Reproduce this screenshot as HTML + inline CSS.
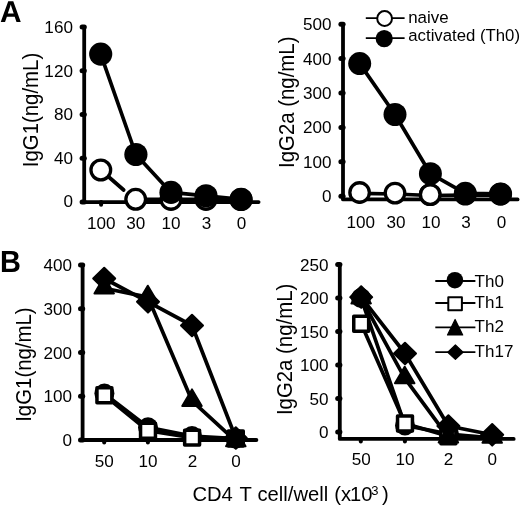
<!DOCTYPE html>
<html><head><meta charset="utf-8"><style>
html,body{margin:0;padding:0;background:#fff;}
body{width:520px;height:506px;overflow:hidden;}
svg{display:block;filter:grayscale(1);}
text{font-family:"Liberation Sans",sans-serif;fill:#000;}
</style></head><body>
<svg width="520" height="506" viewBox="0 0 520 506" stroke="#000">
<rect x="0" y="0" width="520" height="506" fill="#fff" stroke="none"/>

<path d="M16.5 22 14.68 16.7H6.86L5.04 22H0.74L8.23 1.24H13.29L20.75 22ZM10.76 4.44 10.67 4.76Q10.53 5.29 10.32 5.97Q10.12 6.65 7.82 13.42H13.72L11.69 7.46L11.07 5.45Z" fill="#000" stroke="none"/>
<path d="M19.6 266.08Q19.6 268.96 17.56 270.53Q15.52 272.1 11.89 272.1H1.9V251H11.04Q14.7 251 16.57 252.34Q18.45 253.68 18.45 256.3Q18.45 258.1 17.51 259.33Q16.57 260.57 14.64 261Q17.06 261.3 18.33 262.61Q19.6 263.92 19.6 266.08ZM14.24 256.9Q14.24 255.48 13.39 254.88Q12.53 254.28 10.84 254.28H6.08V259.51H10.87Q12.64 259.51 13.44 258.85Q14.24 258.2 14.24 256.9ZM15.41 265.74Q15.41 262.77 11.38 262.77H6.08V268.82H11.54Q13.55 268.82 14.48 268.05Q15.41 267.28 15.41 265.74Z" fill="#000" stroke="none"/>
<g stroke="none">
</g>
<line x1="84.2" y1="27.02" x2="84.2" y2="202.1" stroke-width="3.8" stroke-linecap="butt"/>
<line x1="84.2" y1="202.1" x2="258.6" y2="202.1" stroke-width="3.8" stroke-linecap="round"/>
<line x1="82.1" y1="202.1" x2="84.3" y2="202.1" stroke-width="5" stroke-linecap="round"/>
<line x1="82.1" y1="158.33" x2="84.3" y2="158.33" stroke-width="5" stroke-linecap="round"/>
<line x1="82.1" y1="114.56" x2="84.3" y2="114.56" stroke-width="5" stroke-linecap="round"/>
<line x1="82.1" y1="70.79" x2="84.3" y2="70.79" stroke-width="5" stroke-linecap="round"/>
<line x1="82.1" y1="27.02" x2="84.3" y2="27.02" stroke-width="5" stroke-linecap="round"/>
<line x1="101.1" y1="202.1" x2="101.1" y2="204.7" stroke-width="4" stroke-linecap="round"/>
<line x1="136" y1="202.1" x2="136" y2="204.7" stroke-width="4" stroke-linecap="round"/>
<line x1="171" y1="202.1" x2="171" y2="204.7" stroke-width="4" stroke-linecap="round"/>
<line x1="206" y1="202.1" x2="206" y2="204.7" stroke-width="4" stroke-linecap="round"/>
<line x1="241" y1="202.1" x2="241" y2="204.7" stroke-width="4" stroke-linecap="round"/>
<text stroke="none" transform="translate(72.9,206.9) scale(1.07,1)" font-size="16" text-anchor="end" >0</text>
<text stroke="none" transform="translate(72.9,163.93) scale(1.07,1)" font-size="16" text-anchor="end" >40</text>
<text stroke="none" transform="translate(72.9,120.26) scale(1.07,1)" font-size="16" text-anchor="end" >80</text>
<text stroke="none" transform="translate(72.9,76.79) scale(1.07,1)" font-size="16" text-anchor="end" >120</text>
<text stroke="none" transform="translate(72.9,33.42) scale(1.07,1)" font-size="16" text-anchor="end" >160</text>
<text stroke="none" transform="translate(101.35,229) scale(1.07,1)" font-size="16" text-anchor="middle" >100</text>
<text stroke="none" transform="translate(135.75,229) scale(1.07,1)" font-size="16" text-anchor="middle" >30</text>
<text stroke="none" transform="translate(171,229) scale(1.07,1)" font-size="16" text-anchor="middle" >10</text>
<text stroke="none" transform="translate(206.45,229) scale(1.07,1)" font-size="16" text-anchor="middle" >3</text>
<text stroke="none" transform="translate(241.45,229) scale(1.07,1)" font-size="16" text-anchor="middle" >0</text>
<text stroke="none" transform="translate(37.9,110) scale(1.04,1) rotate(-90)" x="0" y="0" font-size="20.4" text-anchor="middle">IgG1(ng/mL)</text>
<line x1="100.8" y1="170" x2="123.7" y2="190" stroke-width="3.7" stroke-linecap="round"/>
<polyline points="135.7,199.3 171,199.4 206,199.4 241,199.5" fill="none" stroke-width="3.7" stroke-linejoin="round"/>
<circle cx="100.8" cy="170" r="9.85" fill="#fff" stroke-width="3.3"/>
<circle cx="135.7" cy="199.3" r="9.85" fill="#fff" stroke-width="3.3"/>
<circle cx="171" cy="199.4" r="9.85" fill="#fff" stroke-width="3.3"/>
<circle cx="206" cy="199.4" r="9.85" fill="#fff" stroke-width="3.3"/>
<circle cx="241" cy="199.5" r="9.85" fill="#fff" stroke-width="3.3"/>
<polyline points="100.7,54.1 135.9,154.5 171,192.4 206,195.8 241.1,199.4" fill="none" stroke-width="3.7" stroke-linejoin="round"/>
<circle cx="100.7" cy="54.1" r="11.6" fill="#000" stroke="none"/>
<circle cx="135.9" cy="154.5" r="11.6" fill="#000" stroke="none"/>
<circle cx="171" cy="192.4" r="11.6" fill="#000" stroke="none"/>
<circle cx="206" cy="195.8" r="11.6" fill="#000" stroke="none"/>
<circle cx="241.1" cy="199.4" r="11.6" fill="#000" stroke="none"/>
<line x1="343" y1="24.2" x2="343" y2="199.4" stroke-width="3.8" stroke-linecap="butt"/>
<line x1="343" y1="199.4" x2="517.6" y2="199.4" stroke-width="3.8" stroke-linecap="round"/>
<line x1="340.9" y1="196.2" x2="343.1" y2="196.2" stroke-width="5" stroke-linecap="round"/>
<line x1="340.9" y1="161.8" x2="343.1" y2="161.8" stroke-width="5" stroke-linecap="round"/>
<line x1="340.9" y1="127.4" x2="343.1" y2="127.4" stroke-width="5" stroke-linecap="round"/>
<line x1="340.9" y1="93" x2="343.1" y2="93" stroke-width="5" stroke-linecap="round"/>
<line x1="340.9" y1="58.6" x2="343.1" y2="58.6" stroke-width="5" stroke-linecap="round"/>
<line x1="340.9" y1="24.2" x2="343.1" y2="24.2" stroke-width="5" stroke-linecap="round"/>
<line x1="359.6" y1="199.4" x2="359.6" y2="202" stroke-width="4" stroke-linecap="round"/>
<line x1="394.6" y1="199.4" x2="394.6" y2="202" stroke-width="4" stroke-linecap="round"/>
<line x1="429.9" y1="199.4" x2="429.9" y2="202" stroke-width="4" stroke-linecap="round"/>
<line x1="465.2" y1="199.4" x2="465.2" y2="202" stroke-width="4" stroke-linecap="round"/>
<line x1="500.4" y1="199.4" x2="500.4" y2="202" stroke-width="4" stroke-linecap="round"/>
<text stroke="none" transform="translate(331.6,202.2) scale(1.07,1)" font-size="16" text-anchor="end" >0</text>
<text stroke="none" transform="translate(331.6,167.8) scale(1.07,1)" font-size="16" text-anchor="end" >100</text>
<text stroke="none" transform="translate(331.6,133.4) scale(1.07,1)" font-size="16" text-anchor="end" >200</text>
<text stroke="none" transform="translate(331.6,99) scale(1.07,1)" font-size="16" text-anchor="end" >300</text>
<text stroke="none" transform="translate(331.6,64.6) scale(1.07,1)" font-size="16" text-anchor="end" >400</text>
<text stroke="none" transform="translate(331.6,30.2) scale(1.07,1)" font-size="16" text-anchor="end" >500</text>
<text stroke="none" transform="translate(360.7,227.6) scale(1.07,1)" font-size="16" text-anchor="middle" >100</text>
<text stroke="none" transform="translate(395.9,227.6) scale(1.07,1)" font-size="16" text-anchor="middle" >30</text>
<text stroke="none" transform="translate(431,227.6) scale(1.07,1)" font-size="16" text-anchor="middle" >10</text>
<text stroke="none" transform="translate(466,227.6) scale(1.07,1)" font-size="16" text-anchor="middle" >3</text>
<text stroke="none" transform="translate(501.4,227.6) scale(1.07,1)" font-size="16" text-anchor="middle" >0</text>
<text stroke="none" transform="translate(293.5,102.25) scale(1.04,1) rotate(-90)" x="0" y="0" font-size="20.4" text-anchor="middle">IgG2a (ng/mL)</text>
<polyline points="359.6,193.4 395,194 430.2,195.5 465.3,195.1 500.5,195.1" fill="none" stroke-width="3.7" stroke-linejoin="round"/>
<circle cx="359.6" cy="192.5" r="9.75" fill="#fff" stroke-width="3.3"/>
<circle cx="395" cy="193.1" r="9.75" fill="#fff" stroke-width="3.3"/>
<circle cx="430.2" cy="194.6" r="9.75" fill="#fff" stroke-width="3.3"/>
<circle cx="465.3" cy="194.2" r="9.75" fill="#fff" stroke-width="3.3"/>
<circle cx="500.5" cy="194.2" r="9.75" fill="#fff" stroke-width="3.3"/>
<polyline points="359.7,63.6 395,114.5 430.4,173.7 465.3,193.3 500.6,193.9" fill="none" stroke-width="3.7" stroke-linejoin="round"/>
<circle cx="359.7" cy="63.6" r="11.5" fill="#000" stroke="none"/>
<circle cx="395" cy="114.5" r="11.5" fill="#000" stroke="none"/>
<circle cx="430.4" cy="173.7" r="11.5" fill="#000" stroke="none"/>
<circle cx="465.3" cy="193.3" r="11.5" fill="#000" stroke="none"/>
<circle cx="500.6" cy="193.9" r="11.5" fill="#000" stroke="none"/>
<circle cx="430.2" cy="194.6" r="9.75" fill="#fff" stroke-width="3.3"/>
<line x1="365.8" y1="18.1" x2="404.6" y2="18.1" stroke-width="1.8" stroke-linecap="butt"/>
<circle cx="384.6" cy="18.5" r="7.4" fill="#fff" stroke-width="2"/>
<line x1="365.8" y1="38.1" x2="404.6" y2="38.1" stroke-width="1.8" stroke-linecap="butt"/>
<circle cx="384.2" cy="38.6" r="8.6" fill="#000" stroke="none"/>
<text stroke="none" x="408.2" y="22.7" font-size="16.9" text-anchor="start" stroke="none">naive</text>
<text stroke="none" x="408.3" y="41.1" font-size="16.75" text-anchor="start" stroke="none">activated (Th0)</text>
<line x1="82.6" y1="265" x2="82.6" y2="440" stroke-width="3.8" stroke-linecap="butt"/>
<line x1="82.6" y1="440" x2="256.4" y2="440" stroke-width="3.8" stroke-linecap="round"/>
<line x1="80.5" y1="440" x2="82.7" y2="440" stroke-width="5" stroke-linecap="round"/>
<line x1="80.5" y1="396.25" x2="82.7" y2="396.25" stroke-width="5" stroke-linecap="round"/>
<line x1="80.5" y1="352.5" x2="82.7" y2="352.5" stroke-width="5" stroke-linecap="round"/>
<line x1="80.5" y1="308.75" x2="82.7" y2="308.75" stroke-width="5" stroke-linecap="round"/>
<line x1="80.5" y1="265" x2="82.7" y2="265" stroke-width="5" stroke-linecap="round"/>
<line x1="104.2" y1="440" x2="104.2" y2="442.6" stroke-width="4" stroke-linecap="round"/>
<line x1="147.9" y1="440" x2="147.9" y2="442.6" stroke-width="4" stroke-linecap="round"/>
<line x1="191.8" y1="440" x2="191.8" y2="442.6" stroke-width="4" stroke-linecap="round"/>
<line x1="235.5" y1="440" x2="235.5" y2="442.6" stroke-width="4" stroke-linecap="round"/>
<text stroke="none" transform="translate(72,446) scale(1.07,1)" font-size="16" text-anchor="end" >0</text>
<text stroke="none" transform="translate(72,402.25) scale(1.07,1)" font-size="16" text-anchor="end" >100</text>
<text stroke="none" transform="translate(72,358.5) scale(1.07,1)" font-size="16" text-anchor="end" >200</text>
<text stroke="none" transform="translate(72,314.75) scale(1.07,1)" font-size="16" text-anchor="end" >300</text>
<text stroke="none" transform="translate(72,271) scale(1.07,1)" font-size="16" text-anchor="end" >400</text>
<text stroke="none" transform="translate(104.25,466.8) scale(1.07,1)" font-size="16" text-anchor="middle" >50</text>
<text stroke="none" transform="translate(147.9,466.8) scale(1.07,1)" font-size="16" text-anchor="middle" >10</text>
<text stroke="none" transform="translate(192.5,466.8) scale(1.07,1)" font-size="16" text-anchor="middle" >2</text>
<text stroke="none" transform="translate(236,466.8) scale(1.07,1)" font-size="16" text-anchor="middle" >0</text>
<text stroke="none" transform="translate(31.1,364.6) scale(1.04,1) rotate(-90)" x="0" y="0" font-size="20.4" text-anchor="middle">IgG1(ng/mL)</text>
<polyline points="104.4,393.6 148,427.3 192,436.1 235.6,438.5" fill="none" stroke-width="3.7" stroke-linejoin="round"/>
<circle cx="104.4" cy="393.6" r="10" fill="#000" stroke="none"/>
<circle cx="148" cy="427.3" r="10" fill="#000" stroke="none"/>
<circle cx="192" cy="436.1" r="10" fill="#000" stroke="none"/>
<circle cx="235.6" cy="438.5" r="10" fill="#000" stroke="none"/>
<polyline points="104.4,395.2 148,430.7 192.1,437.6 235.8,438.5" fill="none" stroke-width="3.7" stroke-linejoin="round"/>
<rect x="96.95" y="387.75" width="14.9" height="14.9" fill="#fff" stroke-width="3.5" stroke-linejoin="round"/>
<rect x="140.55" y="423.25" width="14.9" height="14.9" fill="#fff" stroke-width="3.5" stroke-linejoin="round"/>
<rect x="184.65" y="430.15" width="14.9" height="14.9" fill="#fff" stroke-width="3.5" stroke-linejoin="round"/>
<rect x="228.35" y="431.05" width="14.9" height="14.9" fill="#fff" stroke-width="3.5" stroke-linejoin="round"/>
<polyline points="104.2,288.2 147.8,297.1 192,400.8 235.8,441.1" fill="none" stroke-width="3.7" stroke-linejoin="round"/>
<polygon points="104.2,276.8 113.95,293.4 94.45,293.4" fill="#000" stroke-width="2" stroke-linejoin="round"/>
<polygon points="147.8,285.7 157.55,302.3 138.05,302.3" fill="#000" stroke-width="2" stroke-linejoin="round"/>
<polygon points="192,389.4 201.75,406 182.25,406" fill="#000" stroke-width="2" stroke-linejoin="round"/>
<polygon points="235.8,429.7 245.55,446.3 226.05,446.3" fill="#000" stroke-width="2" stroke-linejoin="round"/>
<polyline points="104.2,278.5 148,301.8 192,325.5 235.8,438" fill="none" stroke-width="3.7" stroke-linejoin="round"/>
<polygon points="104.2,267.7 115.2,278.5 104.2,289.3 93.2,278.5" fill="#000" stroke-width="2" stroke-linejoin="round"/>
<polygon points="148,291 159,301.8 148,312.6 137,301.8" fill="#000" stroke-width="2" stroke-linejoin="round"/>
<polygon points="192,314.7 203,325.5 192,336.3 181,325.5" fill="#000" stroke-width="2" stroke-linejoin="round"/>
<polygon points="235.8,427.2 246.8,438 235.8,448.8 224.8,438" fill="#000" stroke-width="2" stroke-linejoin="round"/>
<line x1="339.8" y1="264.5" x2="339.8" y2="438.9" stroke-width="3.8" stroke-linecap="butt"/>
<line x1="339.8" y1="438.9" x2="513.7" y2="438.9" stroke-width="3.8" stroke-linecap="round"/>
<line x1="337.7" y1="432.1" x2="339.9" y2="432.1" stroke-width="5" stroke-linecap="round"/>
<line x1="337.7" y1="398.58" x2="339.9" y2="398.58" stroke-width="5" stroke-linecap="round"/>
<line x1="337.7" y1="365.06" x2="339.9" y2="365.06" stroke-width="5" stroke-linecap="round"/>
<line x1="337.7" y1="331.54" x2="339.9" y2="331.54" stroke-width="5" stroke-linecap="round"/>
<line x1="337.7" y1="298.02" x2="339.9" y2="298.02" stroke-width="5" stroke-linecap="round"/>
<line x1="337.7" y1="264.5" x2="339.9" y2="264.5" stroke-width="5" stroke-linecap="round"/>
<line x1="360.8" y1="438.9" x2="360.8" y2="441.5" stroke-width="4" stroke-linecap="round"/>
<line x1="404.9" y1="438.9" x2="404.9" y2="441.5" stroke-width="4" stroke-linecap="round"/>
<line x1="449" y1="438.9" x2="449" y2="441.5" stroke-width="4" stroke-linecap="round"/>
<line x1="493" y1="438.9" x2="493" y2="441.5" stroke-width="4" stroke-linecap="round"/>
<text stroke="none" transform="translate(328.6,438.1) scale(1.07,1)" font-size="16" text-anchor="end" >0</text>
<text stroke="none" transform="translate(328.6,404.58) scale(1.07,1)" font-size="16" text-anchor="end" >50</text>
<text stroke="none" transform="translate(328.6,371.06) scale(1.07,1)" font-size="16" text-anchor="end" >100</text>
<text stroke="none" transform="translate(328.6,337.54) scale(1.07,1)" font-size="16" text-anchor="end" >150</text>
<text stroke="none" transform="translate(328.6,304.02) scale(1.07,1)" font-size="16" text-anchor="end" >200</text>
<text stroke="none" transform="translate(328.6,270.5) scale(1.07,1)" font-size="16" text-anchor="end" >250</text>
<text stroke="none" transform="translate(361.2,465.4) scale(1.07,1)" font-size="16" text-anchor="middle" >50</text>
<text stroke="none" transform="translate(404.9,465.4) scale(1.07,1)" font-size="16" text-anchor="middle" >10</text>
<text stroke="none" transform="translate(448.6,465.4) scale(1.07,1)" font-size="16" text-anchor="middle" >2</text>
<text stroke="none" transform="translate(492.3,465.4) scale(1.07,1)" font-size="16" text-anchor="middle" >0</text>
<text stroke="none" transform="translate(291.7,349.4) scale(1.04,1) rotate(-90)" x="0" y="0" font-size="20.4" text-anchor="middle">IgG2a (ng/mL)</text>
<polyline points="361,298 405,425.4 449,434 492.5,438" fill="none" stroke-width="3.7" stroke-linejoin="round"/>
<circle cx="361" cy="298" r="10" fill="#000" stroke="none"/>
<circle cx="405" cy="425.4" r="10" fill="#000" stroke="none"/>
<circle cx="449" cy="434" r="10" fill="#000" stroke="none"/>
<polyline points="361.2,323.7 405,423.5 448.4,436.2 492.5,437" fill="none" stroke-width="3.7" stroke-linejoin="round"/>
<rect x="353.75" y="316.25" width="14.9" height="14.9" fill="#fff" stroke-width="3.5" stroke-linejoin="round"/>
<rect x="397.55" y="416.05" width="14.9" height="14.9" fill="#fff" stroke-width="3.5" stroke-linejoin="round"/>
<rect x="440.95" y="428.75" width="14.9" height="14.9" fill="#fff" stroke-width="3.5" stroke-linejoin="round"/>
<polyline points="361.15,298.3 404.7,378.1 448.4,437.4 492.2,437.6" fill="none" stroke-width="3.7" stroke-linejoin="round"/>
<polygon points="361.15,286.9 370.9,303.5 351.4,303.5" fill="#000" stroke-width="2" stroke-linejoin="round"/>
<polygon points="404.7,366.7 414.45,383.3 394.95,383.3" fill="#000" stroke-width="2" stroke-linejoin="round"/>
<polygon points="448.4,426 458.15,442.6 438.65,442.6" fill="#000" stroke-width="2" stroke-linejoin="round"/>
<polygon points="492.2,426.2 501.95,442.8 482.45,442.8" fill="#000" stroke-width="2" stroke-linejoin="round"/>
<polyline points="361.2,297.1 405,353.5 448.4,426 492.2,434.8" fill="none" stroke-width="3.7" stroke-linejoin="round"/>
<polygon points="361.2,286.3 372.2,297.1 361.2,307.9 350.2,297.1" fill="#000" stroke-width="2" stroke-linejoin="round"/>
<polygon points="405,342.7 416,353.5 405,364.3 394,353.5" fill="#000" stroke-width="2" stroke-linejoin="round"/>
<polygon points="448.4,415.2 459.4,426 448.4,436.8 437.4,426" fill="#000" stroke-width="2" stroke-linejoin="round"/>
<polygon points="492.2,424 503.2,434.8 492.2,445.6 481.2,434.8" fill="#000" stroke-width="2" stroke-linejoin="round"/>
<line x1="435.3" y1="281" x2="475.4" y2="281" stroke-width="1.8" stroke-linecap="butt"/>
<line x1="435.3" y1="303" x2="475.4" y2="303" stroke-width="1.8" stroke-linecap="butt"/>
<line x1="435.3" y1="327.3" x2="475.4" y2="327.3" stroke-width="1.8" stroke-linecap="butt"/>
<line x1="435.3" y1="352.2" x2="475.4" y2="352.2" stroke-width="1.8" stroke-linecap="butt"/>
<circle cx="454.9" cy="280.2" r="8.3" fill="#000" stroke="none"/>
<rect x="448.3" y="297.3" width="13.6" height="13" fill="#fff" stroke-width="2" stroke-linejoin="round"/>
<polygon points="455.1,319.5 462.7,334.9 447.5,334.9" fill="#000" stroke-width="1.2" stroke-linejoin="round"/>
<polygon points="455.4,345 463,352.2 455.4,359.4 447.8,352.2" fill="#000" stroke-width="1.2" stroke-linejoin="round"/>
<text stroke="none" x="474.6" y="286.6" font-size="17" text-anchor="start" stroke="none">Th0</text>
<text stroke="none" x="474.6" y="307.6" font-size="17" text-anchor="start" stroke="none">Th1</text>
<text stroke="none" x="474.6" y="332.4" font-size="17" text-anchor="start" stroke="none">Th2</text>
<text stroke="none" x="474.6" y="356.8" font-size="17" text-anchor="start" stroke="none">Th17</text>
<text stroke="none" x="192.4" y="500.8" font-size="20.2" stroke="none">CD4<tspan dx="1.4"> T</tspan><tspan dx="0.5"> cell/well</tspan><tspan dx="0.4"> (x</tspan><tspan dx="-1.1">10</tspan><tspan font-size="13" dy="-5.8" dx="-1.1">3</tspan><tspan dy="5.8" dx="3.4">)</tspan></text>
</svg>
</body></html>
